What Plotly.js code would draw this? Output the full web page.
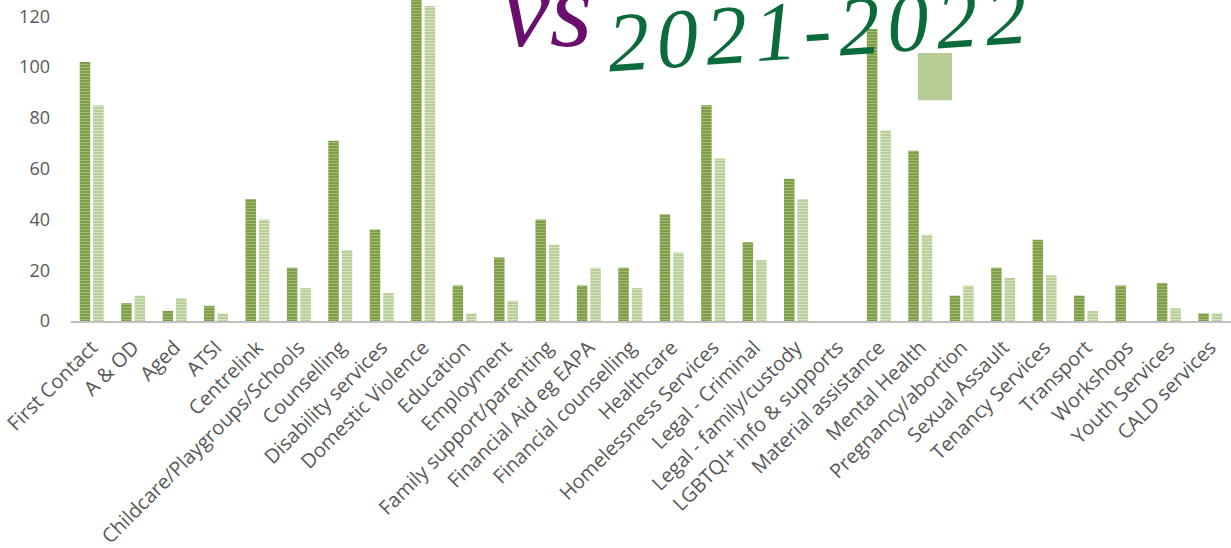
<!DOCTYPE html>
<html>
<head>
<meta charset="utf-8">
<script src="https://cdn.plot.ly/plotly-3.0.1.min.js"></script>
<style>html,body{margin:0;padding:0;background:#fff;}#chart{width:1231px;height:548px;}</style>
</head>
<body>
<div id="chart"></div>
<script>
const categories = ["First Contact","A & OD","Aged","ATSI","Centrelink","Childcare/Playgroups/Schools","Counselling","Disability services","Domestic Violence","Education","Employment","Family support/parenting","Financial Aid eg EAPA","Financial counselling","Healthcare","Homelessness Services","Legal - Criminal","Legal - family/custody","LGBTQI+ info & supports","Material assistance","Mental Health","Pregnancy/abortion","Sexual Assault","Tenancy Services","Transport","Workshops","Youth Services","CALD services"];
const seriesA = [102,7,4,6,48,21,71,36,135,14,25,40,14,21,42,85,31,56,0,115,67,10,21,32,10,14,15,3];
const seriesB = [85,10,9,3,40,13,28,11,124,3,8,30,21,13,27,64,24,48,0,75,34,14,17,18,4,0,5,3];
const seriesNames = ["Earlier year","2021-2022"];
const yTicks = [0,20,40,60,80,100,120];

const traces = [
  {type:'bar', name:seriesNames[0], x:categories, y:seriesA,
   marker:{color:'#7e9f47', line:{width:0},
           pattern:{shape:'-', bgcolor:'#7e9f47', fgcolor:'#a4c078', size:3, solidity:0.3}}},
  {type:'bar', name:seriesNames[1], x:categories, y:seriesB,
   marker:{color:'#b9cf99', line:{width:0},
           pattern:{shape:'-', bgcolor:'#b9cf99', fgcolor:'#d9e6c6', size:3, solidity:0.3}}}
];

const layout = {
  width:1231, height:548,
  margin:{l:71, r:0, t:0, b:227},
  paper_bgcolor:'#ffffff', plot_bgcolor:'#ffffff',
  showlegend:false,
  barmode:'group', bargap:0.35, bargroupgap:0.22,
  font:{family:'Open Sans, sans-serif', color:'#595959'},
  xaxis:{type:'category', tickangle:-45, tickfont:{size:20, color:'#595959'}, ticklabelstandoff:5,
         showline:true, linecolor:'#c0c0c0', linewidth:2, ticks:'', showgrid:false, zeroline:false, fixedrange:true},
  yaxis:{range:[0,126.4], tickvals:yTicks, tickfont:{size:18, color:'#595959'},
         showgrid:false, zeroline:false, showline:false, ticks:'', ticklabelstandoff:20, fixedrange:true},
  shapes:[{type:'rect', xref:'paper', yref:'paper', x0:0.730, x1:0.7595, y0:0.688, y1:0.835,
           fillcolor:'#b8cd96', line:{width:0}}],
  annotations:[
    {xref:'paper', yref:'paper', x:0.41, y:0.775, xanchor:'center', yanchor:'bottom', showarrow:false,
     text:'vs', font:{family:'Liberation Serif', style:'italic', size:110, color:'#6a0f6e'}},
    {xref:'paper', yref:'paper', x:0.643, y:0.91, xanchor:'center', yanchor:'middle', showarrow:false,
     textangle:-4, text:'2\u200a0\u200a2\u200a1\u200a-\u200a2\u200a0\u200a2\u200a2',
     font:{family:'Liberation Serif', style:'italic', size:84, color:'#0b6b3b'}}
  ]
};

Plotly.newPlot('chart', traces, layout, {displayModeBar:false, staticPlot:true});
</script>
</body>
</html>
